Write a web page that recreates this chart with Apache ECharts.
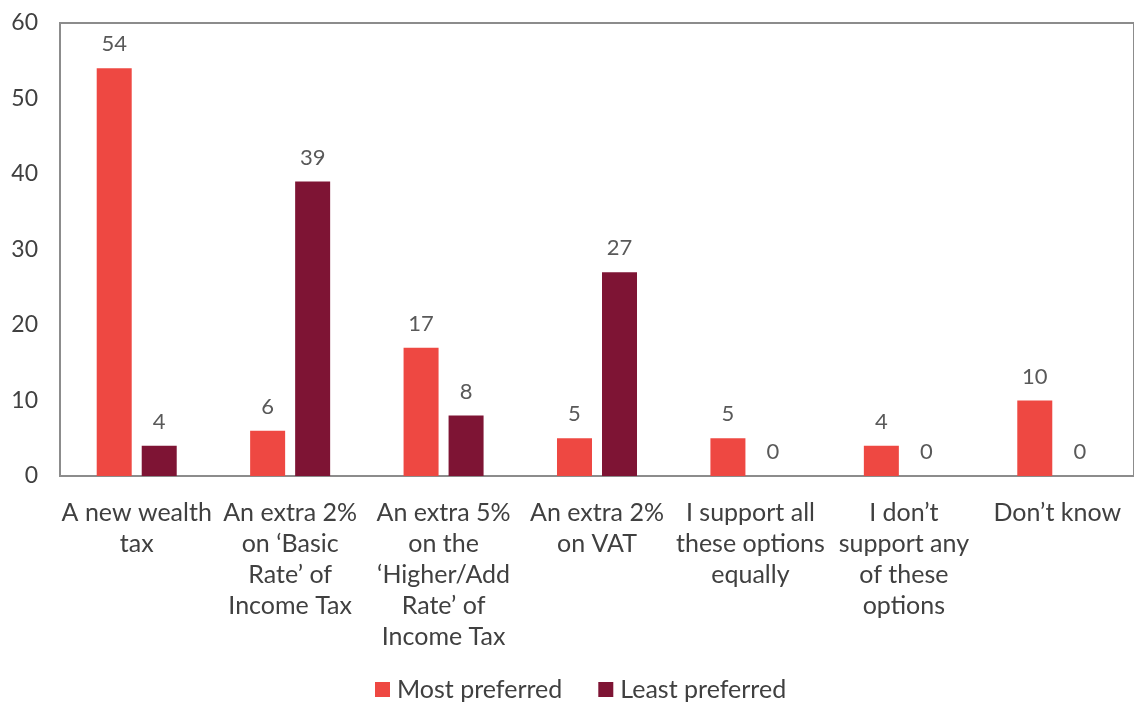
<!DOCTYPE html>
<html><head><meta charset="utf-8">
<script src="https://cdn.jsdelivr.net/npm/echarts@6/dist/echarts.min.js"></script>
<style>html,body{margin:0;padding:0;background:#fff}#c{width:1134px;height:702px}</style>
</head><body><div id="c"></div>
<script>
const categories = [
  "A new wealth\ntax",
  "An extra 2%\non ‘Basic\nRate’ of\nIncome Tax",
  "An extra 5%\non the\n‘Higher/Add\nRate’ of\nIncome Tax",
  "An extra 2%\non VAT",
  "I support all\nthese options\nequally",
  "I don’t\nsupport any\nof these\noptions",
  "Don’t know"
];
const mostPreferred = [54, 6, 17, 5, 5, 4, 10];
const leastPreferred = [4, 39, 8, 27, 0, 0, 0];
const seriesNames = ["Most preferred", "Least preferred"];

const chart = echarts.init(document.getElementById('c'), null, {renderer: 'canvas'});
const font = 'Lato, "Open Sans", sans-serif';
chart.setOption({
  animation: false,
  textStyle: {fontFamily: font},
  grid: {left: 60, top: 23, width: 1081, height: 453, show: true, borderColor: '#8c8c8c', borderWidth: 2, containLabel: false},
  legend: {
    data: seriesNames, left: 375, top: 677, padding: 0, itemWidth: 15, itemHeight: 15, itemGap: 36,
    icon: 'rect',
    textStyle: {fontFamily: font, fontSize: 25, color: '#404040', padding: [0,0,0,2]}
  },
  xAxis: {
    type: 'category', data: categories,
    axisLine: {lineStyle: {color: '#8c8c8c', width: 2}},
    axisTick: {show: false},
    axisLabel: {interval: 0, fontFamily: font, fontSize: 25, color: '#404040', lineHeight: 31, margin: 21}
  },
  yAxis: {
    type: 'value', min: 0, max: 60, interval: 10,
    axisLine: {show: true, lineStyle: {color: '#8c8c8c', width: 2}},
    axisTick: {show: false},
    splitLine: {show: false},
    axisLabel: {fontFamily: font, fontSize: 23, color: '#404040', margin: 22}
  },
  series: [
    {name: seriesNames[0], type: 'bar', data: mostPreferred, barWidth: 35, barGap: '28.6%',
     itemStyle: {color: '#EE4842'},
     label: {show: true, position: 'top', distance: 13, fontFamily: font, fontSize: 22, color: '#595959'}},
    {name: seriesNames[1], type: 'bar', data: leastPreferred, barWidth: 35,
     itemStyle: {color: '#7E1434'},
     label: {show: true, position: 'top', distance: 13, fontFamily: font, fontSize: 22, color: '#595959'}}
  ]
});
</script></body></html>
